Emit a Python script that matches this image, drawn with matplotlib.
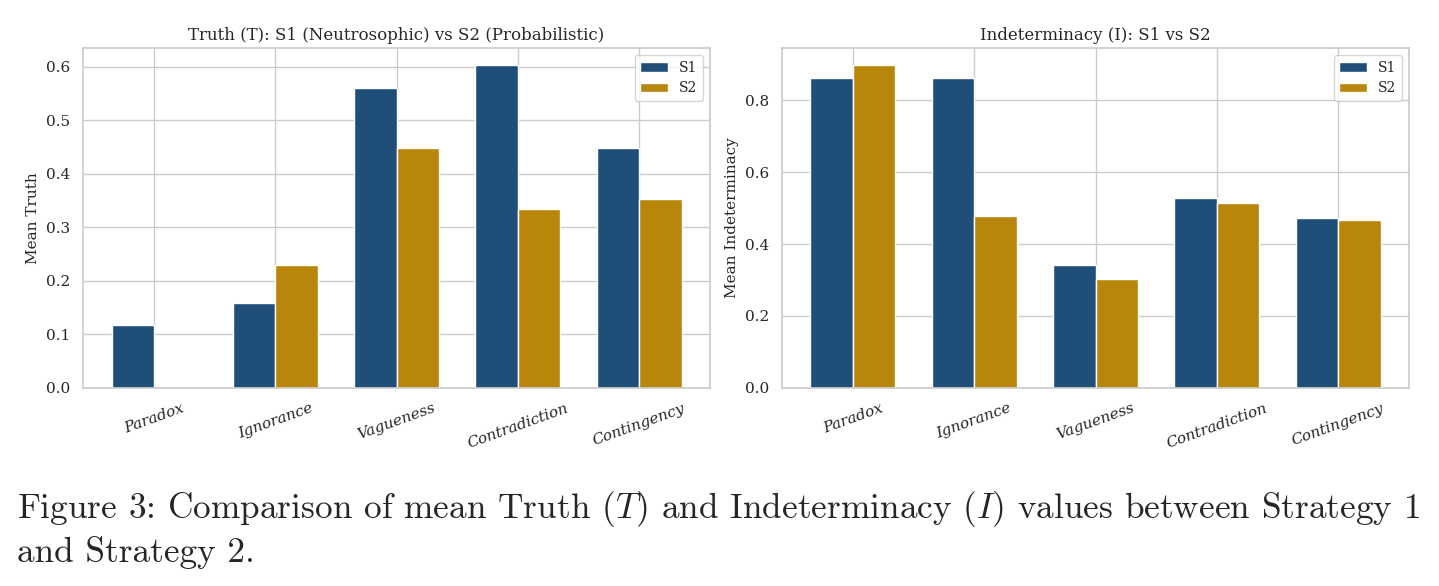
import numpy as np
import matplotlib
matplotlib.use('Agg')
import matplotlib.pyplot as plt
import seaborn as sns

categories = ['Paradox', 'Ignorance', 'Vagueness', 'Contradiction', 'Contingency']
truth_s1 = [0.118, 0.158, 0.561, 0.604, 0.448]
truth_s2 = [0.0, 0.229, 0.448, 0.335, 0.353]
indet_s1 = [0.862, 0.862, 0.343, 0.527, 0.473]
indet_s2 = [0.898, 0.479, 0.302, 0.513, 0.467]

sns.set_theme(style='whitegrid')
plt.rcParams['font.family'] = 'DejaVu Serif'
plt.rcParams['mathtext.fontset'] = 'cm'

c1 = '#1f4e79'
c2 = '#b8860b'
w = 0.35
x = np.arange(len(categories))

fig = plt.figure(figsize=(14.39, 5.86), dpi=100)
ax1 = fig.add_axes([0.0577, 0.338, 0.4357, 0.580])
ax2 = fig.add_axes([0.5434, 0.338, 0.4358, 0.580])

def draw(ax, s1, s2, title, ylabel):
    ax.bar(x - w/2, s1, w, color=c1, edgecolor='white', label='S1')
    ax.bar(x + w/2, s2, w, color=c2, edgecolor='white', label='S2')
    ax.set_xticks(x)
    ax.set_xticklabels(categories, rotation=20, fontstyle='italic', fontsize=11)
    ax.tick_params(axis='y', labelsize=11)
    ax.set_title(title, fontsize=12)
    ax.set_ylabel(ylabel, fontsize=11)
    ax.legend(loc='upper right', fontsize=10)
    for s in ax.spines.values():
        s.set_color('#cccccc')

draw(ax1, truth_s1, truth_s2, 'Truth (T): S1 (Neutrosophic) vs S2 (Probabilistic)', 'Mean Truth')
draw(ax2, indet_s1, indet_s2, 'Indeterminacy (I): S1 vs S2', 'Mean Indeterminacy')
ax1.set_ylim(0, 0.635)
ax2.set_ylim(0, 0.945)
ax2.set_yticks([0.0, 0.2, 0.4, 0.6, 0.8])

fig.text(0.012, 0.116, 'Figure 3: Comparison of mean Truth ($T$) and Indeterminacy ($I$) values between Strategy 1',
         family='cmr10', fontsize=25.4, va='baseline')
fig.text(0.012, 0.041, 'and Strategy 2.', family='cmr10', fontsize=25.4, va='baseline')

fig.savefig('out.png', dpi=100)
